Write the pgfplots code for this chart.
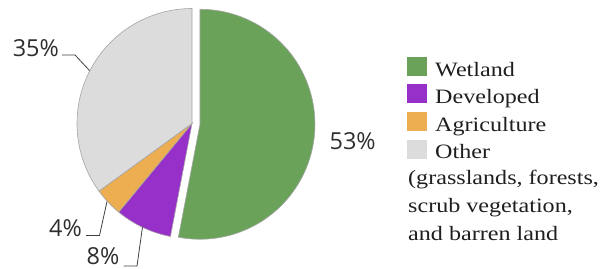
\documentclass[border=0pt]{standalone}
\usepackage{pgfplots}
\pgfplotsset{compat=1.18}
\usepackage{pgfplotstable}
\usepackage{fontspec}
\setmainfont{Liberation Serif}[FakeStretch=1.18]
\newfontfamily\pctfont{Open Sans}

\definecolor{cWet}{RGB}{106,162,90}
\definecolor{cDev}{RGB}{150,48,200}
\definecolor{cAgr}{RGB}{236,174,80}
\definecolor{cOth}{RGB}{220,220,220}
\definecolor{cEdge}{RGB}{165,165,165}
\definecolor{cLead}{RGB}{64,64,64}

\pgfplotstableread{
name value
Wetland 53
Developed 8
Agriculture 4
Other 35
}\pietable
\pgfplotstablegetelem{0}{value}\of\pietable \edef\vA{\pgfplotsretval}
\pgfplotstablegetelem{1}{value}\of\pietable \edef\vB{\pgfplotsretval}
\pgfplotstablegetelem{2}{value}\of\pietable \edef\vC{\pgfplotsretval}
\pgfplotstablegetelem{3}{value}\of\pietable \edef\vD{\pgfplotsretval}
\pgfmathsetmacro{\aO}{90}
\pgfmathsetmacro{\aA}{\aO-3.6*\vA}
\pgfmathsetmacro{\aB}{\aA-3.6*\vB}
\pgfmathsetmacro{\aC}{\aB-3.6*\vC}
\pgfmathsetmacro{\aD}{\aC-3.6*\vD}
\pgfmathsetmacro{\mA}{(\aO+\aA)/2}
\def\cx{192}\def\cy{123.5}\def\r{115}
\pgfmathsetmacro{\ex}{\cx+8*cos(\mA)}
\pgfmathsetmacro{\ey}{\cy-8*sin(\mA)}

\begin{document}
\begin{tikzpicture}
\begin{axis}[
  scale only axis, width=607bp, height=269bp,
  xmin=0, xmax=607, ymin=0, ymax=269, y dir=reverse,
  hide axis, clip=false,
]
\path (axis cs:0,0) rectangle (axis cs:607,269);
% slices
\addplot[fill=cWet, draw=cEdge, line width=0.6bp, domain=\aA:\aO, samples=90, variable=\t]
  ({\ex+\r*cos(\t)},{\ey-\r*sin(\t)}) -- (axis cs:\ex,\ey) -- cycle;
\addplot[fill=cDev, draw=cEdge, line width=0.6bp, domain=\aB:\aA, samples=20, variable=\t]
  ({\cx+\r*cos(\t)},{\cy-\r*sin(\t)}) -- (axis cs:\cx,\cy) -- cycle;
\addplot[fill=cAgr, draw=cEdge, line width=0.6bp, domain=\aC:\aB, samples=12, variable=\t]
  ({\cx+\r*cos(\t)},{\cy-\r*sin(\t)}) -- (axis cs:\cx,\cy) -- cycle;
\addplot[fill=cOth, draw=cEdge, line width=0.6bp, domain=\aD:\aC, samples=60, variable=\t]
  ({\cx+\r*cos(\t)},{\cy-\r*sin(\t)}) -- (axis cs:\cx,\cy) -- cycle;
% leader lines
\draw[cLead, line width=0.8bp] (axis cs:62,55) -- (axis cs:75,55) -- (axis cs:89.5,70.5);
\draw[cLead, line width=0.8bp] (axis cs:86,235.5) -- (axis cs:99.5,235.5) -- (axis cs:107,201.5);
\draw[cLead, line width=0.8bp] (axis cs:123.5,266) -- (axis cs:137,266) -- (axis cs:142.5,227);
% percentage labels
\begin{scope}[every node/.style={inner sep=0pt, text=black!82, font=\pctfont\fontsize{23.5}{26}\selectfont}]
\node[anchor=base east] at (axis cs:59,56) {35\%};
\node[anchor=base west] at (axis cs:329.5,149.5) {53\%};
\node[anchor=base east] at (axis cs:82,236.5) {4\%};
\node[anchor=base east] at (axis cs:119.5,264.3) {8\%};
\end{scope}
% legend
\fill[cWet] (axis cs:407,57) rectangle (axis cs:426.7,75.7);
\fill[cDev] (axis cs:407,84) rectangle (axis cs:426.7,103);
\fill[cAgr] (axis cs:407,112) rectangle (axis cs:426.7,131);
\fill[cOth] (axis cs:407,139.5) rectangle (axis cs:426.7,158.5);
\begin{scope}[every node/.style={inner sep=0pt, anchor=base west, text=black!88, font=\fontsize{20.5}{23}\selectfont}]
\node at (axis cs:435,76) {Wetland};
\node at (axis cs:435,103.3) {Developed};
\node at (axis cs:435,131) {Agriculture};
\node at (axis cs:435,158.5) {Other};
\node at (axis cs:408,184) {(grasslands, forests,};
\node at (axis cs:408,212.5) {scrub vegetation,};
\node at (axis cs:408,240.5) {and barren land};
\end{scope}
\end{axis}
\end{tikzpicture}
\end{document}
